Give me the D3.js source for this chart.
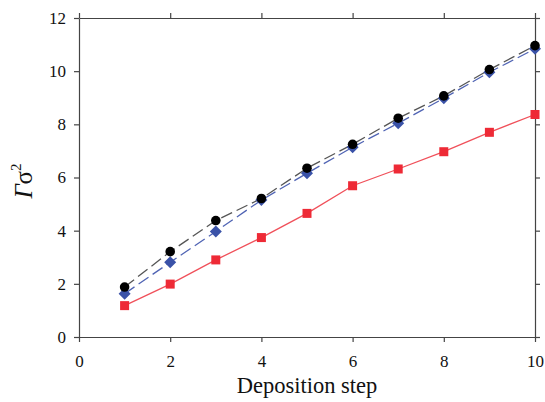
<!DOCTYPE html>
<html>
<head>
<meta charset="utf-8">
<script src="https://cdn.jsdelivr.net/npm/d3@7"></script>
<style>
  html, body { margin: 0; padding: 0; background: #fff; }
  svg text { font-family: "Liberation Serif", "DejaVu Serif", serif; fill: #111; }
</style>
</head>
<body>
<svg id="chart" width="545" height="402"></svg>
<script>
// Deposition steps and measured Γσ² for the three series
const steps = [1, 2, 3, 4, 5, 6, 7, 8, 9, 10];
const circleSeries = [1.88, 3.21, 4.38, 5.21, 6.35, 7.25, 8.23, 9.07, 10.06, 10.96];
const diamondSeries = [1.63, 2.81, 3.97, 5.15, 6.16, 7.14, 8.04, 8.98, 9.96, 10.84];
const squareSeries = [1.18, 1.99, 2.90, 3.74, 4.65, 5.69, 6.32, 6.97, 7.70, 8.37];
const xTicks = [0, 2, 4, 6, 8, 10];
const yTicks = [0, 2, 4, 6, 8, 10, 12];

const serif = "Liberation Serif, DejaVu Serif, serif";
const svg = d3.select("#chart");
const margin = { left: 79, right: 10, top: 18, bottom: 65 };
const W = 545, H = 402;
const x = d3.scaleLinear().domain([0, 10]).range([margin.left, W - margin.right]);
const y = d3.scaleLinear().domain([0, 12]).range([H - margin.bottom, margin.top]);

const axisColor = "#444";
const tickLen = 5;

function styleAxis(g, showLabels) {
  g.attr("font-family", serif).attr("font-size", 17);
  g.select(".domain").attr("stroke", axisColor).attr("stroke-width", 1.2);
  g.selectAll(".tick line").attr("stroke", axisColor).attr("stroke-width", 1.2);
  g.selectAll(".tick text")
    .attr("fill", "#111")
    .attr("display", showLabels ? null : "none");
}

// Frame: ticks point outward on all four sides
svg.append("g")
  .attr("transform", `translate(0,${y(0)})`)
  .call(d3.axisBottom(x).tickValues(xTicks).tickSize(tickLen).tickSizeOuter(0).tickPadding(13))
  .call(g => styleAxis(g, true));
svg.append("g")
  .attr("transform", `translate(0,${y(12)})`)
  .call(d3.axisTop(x).tickValues(xTicks).tickSize(tickLen).tickSizeOuter(0))
  .call(g => styleAxis(g, false));
svg.append("g")
  .attr("transform", `translate(${x(0)},0)`)
  .call(d3.axisLeft(y).tickValues(yTicks).tickSize(tickLen).tickSizeOuter(0).tickPadding(8))
  .call(g => styleAxis(g, true));
svg.append("g")
  .attr("transform", `translate(${x(10)},0)`)
  .call(d3.axisRight(y).tickValues(yTicks).tickSize(tickLen).tickSizeOuter(0))
  .call(g => styleAxis(g, false));

const line = d3.line().x((d, i) => x(steps[i])).y(d => y(d));

// Connecting lines
svg.append("path").datum(squareSeries)
  .attr("d", line).attr("fill", "none")
  .attr("stroke", "#f0505a").attr("stroke-width", 1.3);
svg.append("path").datum(diamondSeries)
  .attr("d", line).attr("fill", "none")
  .attr("stroke", "#5064b4").attr("stroke-width", 1.3)
  .attr("stroke-dasharray", "12,5");
svg.append("path").datum(circleSeries)
  .attr("d", line).attr("fill", "none")
  .attr("stroke", "#555").attr("stroke-width", 1.3)
  .attr("stroke-dasharray", "12,5");

// Markers
svg.append("g").selectAll("rect").data(squareSeries).join("rect")
  .attr("x", (d, i) => x(steps[i]) - 4.5)
  .attr("y", d => y(d) - 4.5)
  .attr("width", 9).attr("height", 9)
  .attr("fill", "#ee2a36");

svg.append("g").selectAll("path").data(diamondSeries).join("path")
  .attr("transform", (d, i) => `translate(${x(steps[i])},${y(d)}) rotate(45)`)
  .attr("d", d3.symbol().type(d3.symbolSquare).size(72))
  .attr("fill", "#3a52a8");

svg.append("g").selectAll("circle").data(circleSeries).join("circle")
  .attr("cx", (d, i) => x(steps[i]))
  .attr("cy", d => y(d))
  .attr("r", 4.8)
  .attr("fill", "#000");

// Axis titles
svg.append("text")
  .attr("x", (x(0) + x(10)) / 2)
  .attr("y", 393)
  .attr("text-anchor", "middle")
  .attr("font-family", serif)
  .attr("font-size", 22.5)
  .text("Deposition step");

const yt = svg.append("text")
  .attr("transform", `translate(32,${181}) rotate(-90)`)
  .attr("text-anchor", "middle")
  .attr("font-family", serif)
  .attr("font-size", 25);
yt.append("tspan").attr("font-style", "italic").text("Γ");
yt.append("tspan").text("σ");
yt.append("tspan").attr("dy", -11).attr("font-size", 15).text("2");
</script>
</body>
</html>
